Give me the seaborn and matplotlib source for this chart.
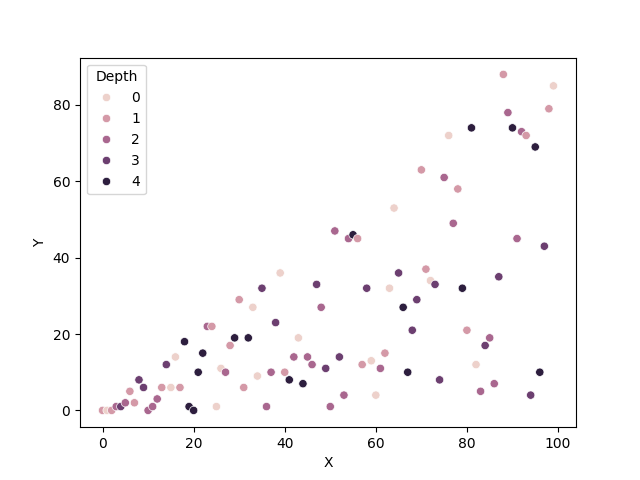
import matplotlib
matplotlib.use("Agg")
import matplotlib.pyplot as plt
import seaborn as sns
import pandas as pd

x = list(range(100))
y = [0, 0, 0, 1, 1, 2, 5, 2, 8, 6, 0, 1, 3, 6, 12, 6, 14, 6, 18, 1,
     0, 10, 15, 22, 22, 1, 11, 10, 17, 19, 29, 6, 19, 27, 9, 32, 1, 10, 23, 36,
     10, 8, 14, 19, 7, 14, 12, 33, 27, 11, 1, 47, 14, 4, 45, 46, 45, 12, 32, 13,
     4, 11, 15, 32, 53, 36, 27, 10, 21, 29, 63, 37, 34, 33, 8, 61, 72, 49, 58, 32,
     21, 74, 12, 5, 17, 19, 7, 35, 88, 78, 74, 45, 73, 72, 4, 69, 10, 43, 79, 85]
depth = [1, 0, 1, 2, 3, 2, 1, 1, 3, 3, 2, 2, 2, 1, 3, 0, 0, 1, 4, 4,
         4, 4, 4, 2, 1, 0, 0, 2, 1, 4, 1, 1, 4, 0, 0, 3, 2, 2, 3, 0,
         1, 4, 2, 0, 4, 2, 2, 3, 2, 3, 2, 2, 3, 2, 2, 4, 1, 1, 3, 0,
         0, 2, 1, 0, 0, 3, 4, 4, 3, 3, 1, 1, 0, 3, 3, 2, 0, 2, 1, 4,
         1, 4, 0, 2, 3, 2, 2, 3, 1, 2, 4, 2, 2, 1, 3, 4, 4, 3, 1, 0]

df = pd.DataFrame({"X": x, "Y": y, "Depth": depth})

fig, ax = plt.subplots(figsize=(6.4, 4.8), dpi=100)
sns.scatterplot(data=df, x="X", y="Y", hue="Depth", ax=ax)
ax.legend(title="Depth", loc="upper left")
fig.savefig("out.png")
